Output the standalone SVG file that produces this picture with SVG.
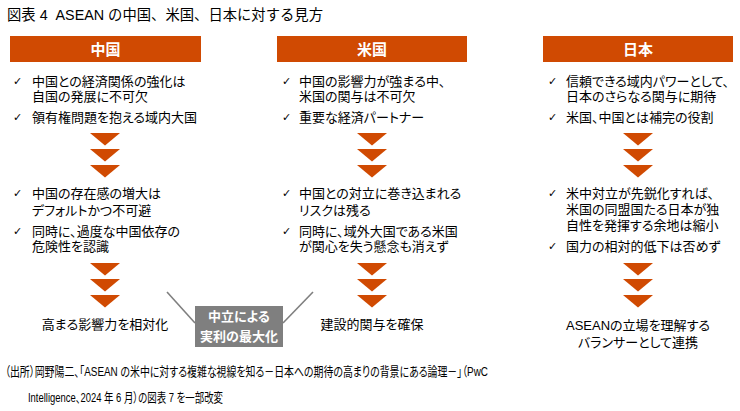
<svg xmlns="http://www.w3.org/2000/svg" xmlns:xlink="http://www.w3.org/1999/xlink" width="740" height="411" viewBox="0 0 740 411">
<style>
  text { font-family: "Liberation Sans", "Noto Sans CJK JP", sans-serif; fill: #000; }
  .t { font-size: 13px; font-feature-settings: "palt"; }
  .title { font-size: 14.5px; white-space: pre; }
  .hd { font-size: 15px; font-weight: bold; fill: #fff; text-anchor: middle; }
  .ck { font-family: "DejaVu Sans", sans-serif; font-size: 11px; font-weight: bold; }
  .c { text-anchor: middle; }
  .gw { font-size: 13px; font-weight: bold; fill: #fff; text-anchor: middle; font-feature-settings: "palt"; }
  .src { font-size: 13px; white-space: pre; font-feature-settings: "palt"; }
  .bar { fill: #D04A02; }
  .conn { stroke: #7F7F7F; stroke-width: 1.6; fill: none; }
</style>
<defs>
  <polygon id="tri" points="-15,0 15,0 0,12.5" fill="#D04A02"/>
  <g id="chev">
    <use xlink:href="#tri" y="0"/>
    <use xlink:href="#tri" y="16"/>
    <use xlink:href="#tri" y="32"/>
  </g>
</defs>
<rect width="740" height="411" fill="#fff"/>
<text class="title" x="7" y="20" xml:space="preserve" textLength="316" lengthAdjust="spacingAndGlyphs">図表 4  ASEAN の中国、米国、日本に対する見方</text>

<g id="node-china">
  <rect class="bar" x="10" y="36" width="191" height="26"/>
  <text class="hd" x="105.5" y="55">中国</text>
  <text class="ck" x="13" y="85">✓</text>
  <text class="t" x="32" y="86">中国との経済関係の強化は</text>
  <text class="t" x="32" y="101">自国の発展に不可欠</text>
  <text class="ck" x="13" y="121">✓</text>
  <text class="t" x="32" y="122">領有権問題を抱える域内大国</text>
  <use xlink:href="#chev" x="105" y="133"/>
  <text class="ck" x="13" y="197">✓</text>
  <text class="t" x="32" y="198">中国の存在感の増大は</text>
  <text class="t" x="32" y="215">デフォルトかつ不可避</text>
  <text class="ck" x="13" y="235">✓</text>
  <text class="t" x="32" y="236">同時に、過度な中国依存の</text>
  <text class="t" x="32" y="251">危険性を認識</text>
  <use xlink:href="#chev" x="105" y="263"/>
  <text class="t c" x="105" y="329">高まる影響力を相対化</text>
</g>

<g id="node-us">
  <rect class="bar" x="277" y="36" width="190" height="26"/>
  <text class="hd" x="372" y="55">米国</text>
  <text class="ck" x="282" y="85">✓</text>
  <text class="t" x="299" y="86">中国の影響力が強まる中、</text>
  <text class="t" x="299" y="101">米国の関与は不可欠</text>
  <text class="ck" x="282" y="121">✓</text>
  <text class="t" x="299" y="122">重要な経済パートナー</text>
  <use xlink:href="#chev" x="372" y="133"/>
  <text class="ck" x="282" y="197">✓</text>
  <text class="t" x="299" y="198">中国との対立に巻き込まれる</text>
  <text class="t" x="299" y="215">リスクは残る</text>
  <text class="ck" x="282" y="235">✓</text>
  <text class="t" x="299" y="236">同時に、域外大国である米国</text>
  <text class="t" x="299" y="251">が関心を失う懸念も消えず</text>
  <use xlink:href="#chev" x="372" y="263"/>
  <text class="t c" x="372" y="329">建設的関与を確保</text>
</g>

<g id="node-japan">
  <rect class="bar" x="543" y="36" width="190" height="26"/>
  <text class="hd" x="638" y="55">日本</text>
  <text class="ck" x="548" y="85">✓</text>
  <text class="t" x="566" y="86">信頼できる域内パワーとして、</text>
  <text class="t" x="566" y="101">日本のさらなる関与に期待</text>
  <text class="ck" x="548" y="121">✓</text>
  <text class="t" x="566" y="122">米国、中国とは補完の役割</text>
  <use xlink:href="#chev" x="638" y="133"/>
  <text class="ck" x="548" y="197">✓</text>
  <text class="t" x="566" y="198">米中対立が先鋭化すれば、</text>
  <text class="t" x="566" y="214">米国の同盟国たる日本が独</text>
  <text class="t" x="566" y="230">自性を発揮する余地は縮小</text>
  <text class="ck" x="548" y="250">✓</text>
  <text class="t" x="566" y="251">国力の相対的低下は否めず</text>
  <use xlink:href="#chev" x="638" y="263"/>
  <text class="t c" x="638" y="330">ASEANの立場を理解する</text>
  <text class="t c" x="638" y="347">バランサーとして連携</text>
</g>

<g id="connectors">
  <line class="conn" x1="167" y1="292" x2="195" y2="323"/>
  <line class="conn" x1="283" y1="323" x2="313" y2="292"/>
</g>

<g id="node-neutral">
  <rect x="195" y="306" width="88" height="41" fill="#7F7F7F"/>
  <text class="gw" x="239" y="321">中立による</text>
  <text class="gw" x="239" y="341">実利の最大化</text>
</g>

<text class="src" x="5" y="376" xml:space="preserve" textLength="483" lengthAdjust="spacingAndGlyphs">（出所）岡野陽二、「ASEAN の米中に対する複雑な視線を知る－日本への期待の高まりの背景にある論理－」（PwC</text>
<text class="src" x="28" y="402" xml:space="preserve" textLength="195" lengthAdjust="spacingAndGlyphs">Intelligence、2024 年 6 月）の図表 7 を一部改変</text>
</svg>
